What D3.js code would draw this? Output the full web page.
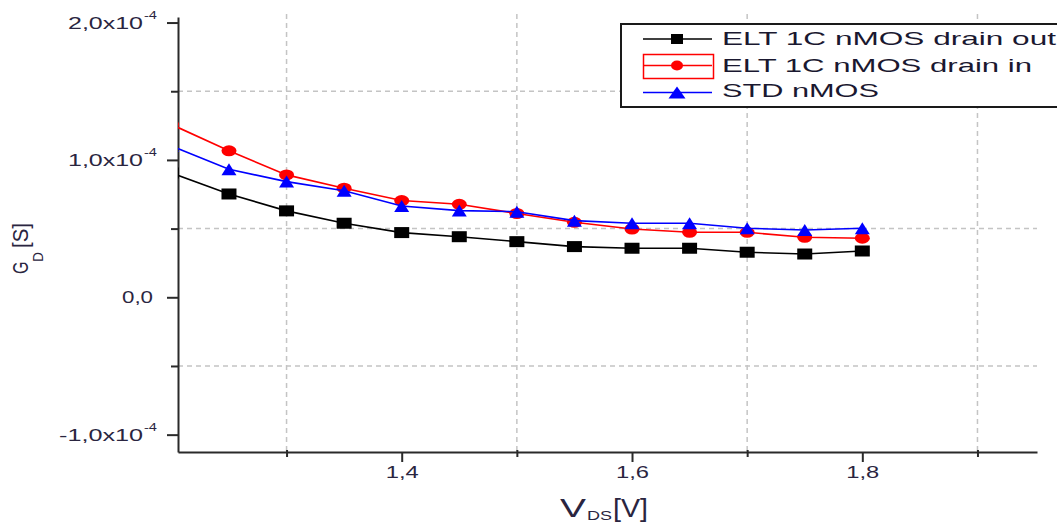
<!DOCTYPE html>
<html><head><meta charset="utf-8">
<script src="https://cdn.jsdelivr.net/npm/d3@7"></script>
<style>body{margin:0;background:#fff;overflow:hidden} svg{display:block} text{font-family:"Liberation Sans",Arial,sans-serif}</style>
</head><body><svg id="c" width="1057" height="524"></svg>
<script>
// ---- data ----
const vds = [1.2,1.25,1.3,1.35,1.4,1.45,1.5,1.55,1.6,1.65,1.7,1.75,1.8];
const drainOut = [9.05e-5,7.52e-5,6.29e-5,5.39e-5,4.71e-5,4.41e-5,4.05e-5,3.69e-5,3.57e-5,3.57e-5,3.28e-5,3.15e-5,3.37e-5];
const drainIn  = [1.258e-4,1.066e-4,8.91e-5,7.94e-5,7.04e-5,6.77e-5,6.10e-5,5.46e-5,4.97e-5,4.73e-5,4.73e-5,4.37e-5,4.30e-5];
const stdNmos  = [1.101e-4,9.32e-5,8.42e-5,7.76e-5,6.65e-5,6.31e-5,6.23e-5,5.58e-5,5.39e-5,5.39e-5,5.02e-5,4.90e-5,5.02e-5];
const seriesNames = ["ELT 1C nMOS drain out","ELT 1C nMOS drain in","STD nMOS"];
const xMajorTicks = [1.4,1.6,1.8];
const xMinorTicks = [1.3,1.5,1.7,1.9];
const yMajorTicks = [2e-4,1e-4,0,-1e-4];
const yMinorTicks = [1.5e-4,0.5e-4,-0.5e-4];
const xTitle = ["V","DS","[V]"];
const yTitle = ["G","D","[S]"];

const svg = d3.select("#c");
const x = d3.scaleLinear().domain([1.20573,1.9517]).range([178,1037]);
const y = d3.scaleLinear().domain([2.0404e-4,-1.1263e-4]).range([17,452]);
const fmtX = v => d3.format(".1f")(v).replace(".",",");

// grid
const grid = svg.append("g").attr("stroke","#c4c4c4").attr("stroke-width",1.5).attr("stroke-dasharray","5,4");
grid.selectAll("line.v").data(xMinorTicks).join("line")
  .attr("x1",d=>x(d)).attr("x2",d=>x(d)).attr("y1",14).attr("y2",452);
grid.selectAll("line.h").data(yMinorTicks).join("line")
  .attr("x1",178).attr("x2",1037).attr("y1",d=>y(d)).attr("y2",d=>y(d));

// axes
const axX = svg.append("g").attr("transform","translate(0,452)")
  .call(d3.axisBottom(x).tickValues(xMajorTicks).tickSize(10).tickSizeOuter(0).tickFormat(fmtX));
svg.append("g").attr("transform","translate(0,450)")
  .call(d3.axisBottom(x).tickValues(xMinorTicks).tickSize(7).tickFormat("")).select(".domain").remove();
const axY = svg.append("g").attr("transform","translate(178,0)")
  .call(d3.axisLeft(y).tickValues(yMajorTicks).tickSize(11).tickSizeOuter(0).tickFormat(""));
svg.append("g").attr("transform","translate(178,0)")
  .call(d3.axisLeft(y).tickValues(yMinorTicks).tickSize(7).tickFormat("")).select(".domain").remove();
svg.selectAll(".domain").attr("stroke","#2a2a2a").attr("stroke-width",2);
svg.selectAll(".tick line").attr("stroke","#2a2a2a").attr("stroke-width",2);
axX.selectAll(".tick text").attr("font-size",16.5).attr("fill","#2a2540")
  .attr("y",14).attr("dy","0.71em").attr("textLength",33).attr("lengthAdjust","spacingAndGlyphs");

// y tick labels with superscripts
const yl = svg.append("g").attr("fill","#2a2540");
yMajorTicks.forEach(v=>{
  const ty = y(v);
  if (v===0) {
    yl.append("text").attr("x",153).attr("y",ty+6).attr("font-size",16).attr("text-anchor","end")
      .attr("textLength",31).attr("lengthAdjust","spacingAndGlyphs").text("0,0");
  } else {
    const m = v/1e-4;
    const s = d3.format(".1f")(m).replace(".",",").replace("−","-")+"x10";
    const w = m<0 ? 84 : 75;
    yl.append("text").attr("x",143).attr("y",ty+6).attr("text-anchor","end").attr("font-size",16)
      .attr("textLength",w).attr("lengthAdjust","spacingAndGlyphs").text(s);
    yl.append("text").attr("x",144).attr("y",ty-3.5).attr("font-size",10)
      .attr("textLength",13).attr("lengthAdjust","spacingAndGlyphs").text("-4");
  }
});

// axis titles
const xt = svg.append("g").attr("fill","#2a2540");
xt.append("text").attr("x",560).attr("y",516.5).attr("font-size",25).attr("textLength",26).attr("lengthAdjust","spacingAndGlyphs").text(xTitle[0]);
xt.append("text").attr("x",587).attr("y",520).attr("font-size",12).attr("textLength",25).attr("lengthAdjust","spacingAndGlyphs").text(xTitle[1]);
xt.append("text").attr("x",613).attr("y",516.5).attr("font-size",25).attr("textLength",35).attr("lengthAdjust","spacingAndGlyphs").text(xTitle[2]);

const ytg = svg.append("g").attr("fill","#2a2540").attr("transform","translate(28,274) rotate(-90) scale(1,1.35)");
ytg.append("text").attr("x",0).attr("y",0).attr("font-size",16).attr("textLength",12.5).attr("lengthAdjust","spacingAndGlyphs").text(yTitle[0]);
ytg.append("text").attr("x",12).attr("y",11).attr("font-size",11).attr("textLength",10).attr("lengthAdjust","spacingAndGlyphs").text(yTitle[1]);
ytg.append("text").attr("x",26).attr("y",0).attr("font-size",16).attr("textLength",25).attr("lengthAdjust","spacingAndGlyphs").text(yTitle[2]);

// clip
svg.append("clipPath").attr("id","clip").append("rect").attr("x",178).attr("y",0).attr("width",880).attr("height",452);
const plot = svg.append("g").attr("clip-path","url(#clip)");

const series = [
  {name:seriesNames[0], vals:drainOut, color:"#000000", shape:"square"},
  {name:seriesNames[1], vals:drainIn,  color:"#ff0000", shape:"circle"},
  {name:seriesNames[2], vals:stdNmos,  color:"#0000ff", shape:"triangle"}
];
const line = d3.line().x((d,i)=>x(vds[i])).y(d=>y(d));

function marker(g, shape, cx, cy, color, w, h) {
  if (shape==="square") g.append("rect").attr("x",cx-w/2).attr("y",cy-h/2).attr("width",w).attr("height",h).attr("fill",color);
  else if (shape==="circle") g.append("ellipse").attr("cx",cx).attr("cy",cy).attr("rx",w/2).attr("ry",h/2).attr("fill",color);
  else g.append("path").attr("d",`M${cx-w/2},${cy+h/2}L${cx},${cy-h/2}L${cx+w/2},${cy+h/2}Z`).attr("fill",color);
}

series.forEach(s=>{
  plot.append("path").attr("d",line(s.vals)).attr("fill","none").attr("stroke",s.color).attr("stroke-width",1.6);
  s.vals.forEach((v,i)=>marker(plot,s.shape,x(vds[i]),y(v),s.color,15,s.shape==="triangle"?12:11));
});

// legend
const lg = svg.append("g");
lg.append("rect").attr("x",621).attr("y",24).attr("width",450).attr("height",83)
  .attr("fill","#fff").attr("stroke","#1a1a1a").attr("stroke-width",2);
const rowsY = [39,65.5,92.5], baseY=[45,71.7,97.3], lens=[334,310,157];
series.forEach((s,i)=>{
  lg.append("line").attr("x1",643).attr("x2",712).attr("y1",rowsY[i]).attr("y2",rowsY[i]).attr("stroke",s.color).attr("stroke-width",1.6);
  marker(lg,s.shape,677,rowsY[i],s.color,s.shape==="triangle"?17:12,s.shape==="triangle"?12:10);
  lg.append("text").attr("x",722).attr("y",baseY[i]).attr("font-size",18.5).attr("fill","#1a1830")
    .attr("textLength",lens[i]).attr("lengthAdjust","spacingAndGlyphs").text(s.name);
});
lg.append("rect").attr("x",643.5).attr("y",54.5).attr("width",70).attr("height",24)
  .attr("fill","none").attr("stroke","#ff0000").attr("stroke-width",1.5);
</script></body></html>
